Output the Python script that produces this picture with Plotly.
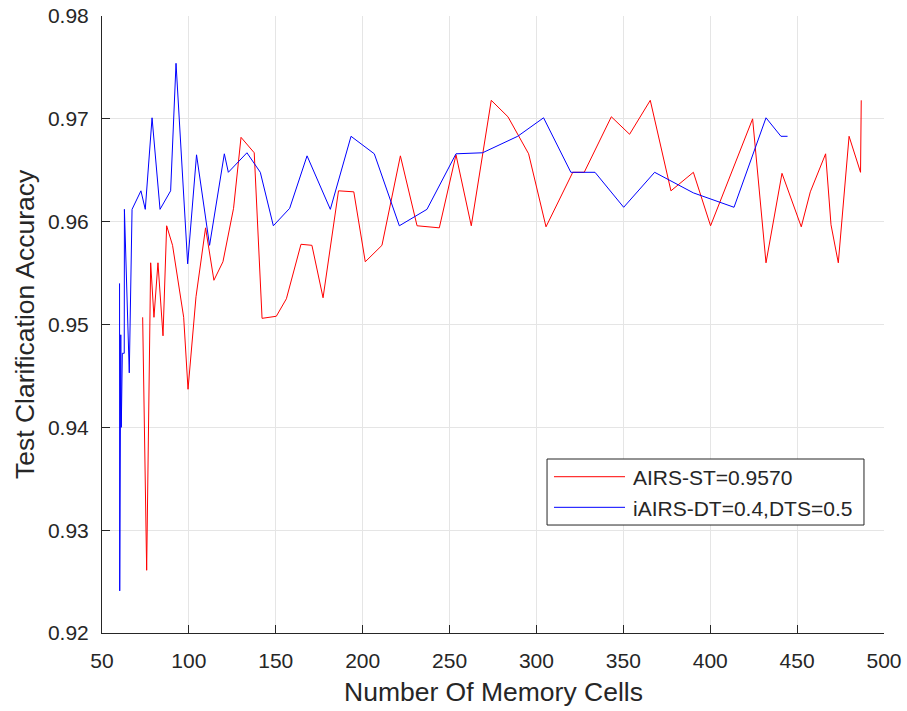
import plotly.graph_objects as go

# AIRS-ST=0.9570 (red)
airs_x = [73.4, 75.7, 78.0, 79.9, 82.2, 85.1, 87.2, 90.6, 97.0, 99.5,
          104.1, 109.6, 114.4, 119.6, 125.7, 130.0, 137.6, 142.1, 150.3, 156.1,
          164.5, 170.8, 177.2, 186.1, 194.9, 201.5, 211.1, 221.7, 231.3, 244.1,
          253.7, 262.5, 274.0, 283.6, 295.5, 305.5, 320.9, 327.5, 343.1, 353.6,
          365.5, 377.4, 390.3, 400.2, 424.4, 432.1, 441.3, 452.4, 457.6, 466.4,
          469.5, 473.7, 479.9, 486.5, 486.9]
airs_y = [0.9507, 0.9261, 0.9560, 0.9507, 0.9560, 0.9489, 0.9596, 0.9577, 0.9507, 0.9437,
          0.9527, 0.9594, 0.9543, 0.9561, 0.9613, 0.9682, 0.9667, 0.9506, 0.9508, 0.9525,
          0.9578, 0.9577, 0.9526, 0.9630, 0.9629, 0.9561, 0.9577, 0.9664, 0.9596, 0.9594,
          0.9665, 0.9596, 0.9718, 0.9702, 0.9666, 0.9595, 0.9648, 0.9648, 0.9702, 0.9685,
          0.9718, 0.9630, 0.9648, 0.9596, 0.9700, 0.9560, 0.9647, 0.9595, 0.9629, 0.9666,
          0.9597, 0.9560, 0.9683, 0.9648, 0.9718]

# iAIRS-DT=0.4,DTS=0.5 (blue)
iairs_x = [60.1, 60.2, 60.8, 61.1, 61.7, 62.8, 62.9, 65.7, 67.3, 72.4,
           74.9, 78.8, 83.4, 89.5, 92.6, 99.3, 104.4, 111.9, 120.4, 122.7,
           133.4, 141.1, 148.6, 158.0, 168.0, 181.4, 193.3, 206.7, 221.1, 237.0,
           253.7, 269.0, 289.2, 304.1, 319.8, 333.7, 350.2, 368.0, 390.3, 413.7,
           432.1, 440.7, 444.5]
iairs_y = [0.9540, 0.9241, 0.9490, 0.9400, 0.9472, 0.9472, 0.9612, 0.9453, 0.9612, 0.9630,
           0.9612, 0.9701, 0.9612, 0.9630, 0.9754, 0.9559, 0.9665, 0.9577, 0.9666, 0.9648,
           0.9667, 0.9648, 0.9596, 0.9613, 0.9664, 0.9612, 0.9683, 0.9666, 0.9596, 0.9612,
           0.9666, 0.9667, 0.9683, 0.9701, 0.9648, 0.9648, 0.9614, 0.9648, 0.9628, 0.9614,
           0.9701, 0.9683, 0.9683]

x_ticks = [50, 100, 150, 200, 250, 300, 350, 400, 450, 500]
y_ticks = [0.92, 0.93, 0.94, 0.95, 0.96, 0.97, 0.98]

series_names = ["AIRS-ST=0.9570", "iAIRS-DT=0.4,DTS=0.5"]
series_colors = ["#ff0000", "#0000ff"]

FONT = "Liberation Sans, Arial, sans-serif"
DARK = "#262626"
GRID = "#e5e5e5"

fig = go.Figure()
fig.add_trace(go.Scatter(x=airs_x, y=airs_y, mode="lines", name=series_names[0],
                         line=dict(color=series_colors[0], width=1), showlegend=False))
fig.add_trace(go.Scatter(x=iairs_x, y=iairs_y, mode="lines", name=series_names[1],
                         line=dict(color=series_colors[1], width=1), showlegend=False))

# legend drawn as a boxed key (paper coordinates)
leg_x0, leg_x1, leg_y0, leg_y1 = 0.5691, 0.9744, 0.1750, 0.2820
row_y = [0.2533, 0.2037]
shapes = [dict(type="rect", xref="paper", yref="paper", x0=leg_x0, x1=leg_x1,
               y0=leg_y0, y1=leg_y1, line=dict(color=DARK, width=1), fillcolor="white",
               layer="above")]
annotations = []
for name, col, yy in zip(series_names, series_colors, row_y):
    shapes.append(dict(type="line", xref="paper", yref="paper", x0=0.5780, x1=0.6688,
                       y0=yy, y1=yy, line=dict(color=col, width=1), layer="above"))
    annotations.append(dict(text=name, xref="paper", yref="paper", x=0.6765, y=yy - 0.002,
                            xanchor="left", yanchor="middle", showarrow=False,
                            font=dict(size=21, color=DARK)))

annotations += [
    dict(text="Number Of Memory Cells", xref="paper", yref="paper",
         x=0.5, y=-0.095, xanchor="center", yanchor="middle", showarrow=False,
         font=dict(size=26.5, color=DARK)),
    dict(text="Test Clarification Accuracy", xref="paper", yref="paper",
         x=-0.099, y=0.5, xanchor="center", yanchor="middle", showarrow=False,
         textangle=-90, font=dict(size=26.5, color=DARK)),
]

fig.update_layout(
    width=907, height=711,
    margin=dict(l=102, r=23, t=16, b=78, autoexpand=False),
    paper_bgcolor="white", plot_bgcolor="white",
    font=dict(family=FONT, size=21, color=DARK),
    showlegend=False,
    xaxis=dict(range=[50, 500], tickvals=x_ticks, ticktext=[str(v) for v in x_ticks],
               showgrid=True, gridcolor=GRID, gridwidth=1, zeroline=False,
               showline=True, linecolor=DARK, linewidth=1, automargin=False,
               ticks="inside", ticklen=8, tickcolor=DARK, ticklabelstandoff=9),
    yaxis=dict(range=[0.92, 0.98], tickvals=y_ticks, ticktext=[f"{v:.2f}" for v in y_ticks],
               showgrid=True, gridcolor=GRID, gridwidth=1, zeroline=False,
               showline=True, linecolor=DARK, linewidth=1, automargin=False,
               ticks="inside", ticklen=8, tickcolor=DARK, ticklabelstandoff=8),
    shapes=shapes,
    annotations=annotations,
)

fig.write_html("out.html", config={"displayModeBar": False},
               post_script="document.body.style.margin='0px';")
